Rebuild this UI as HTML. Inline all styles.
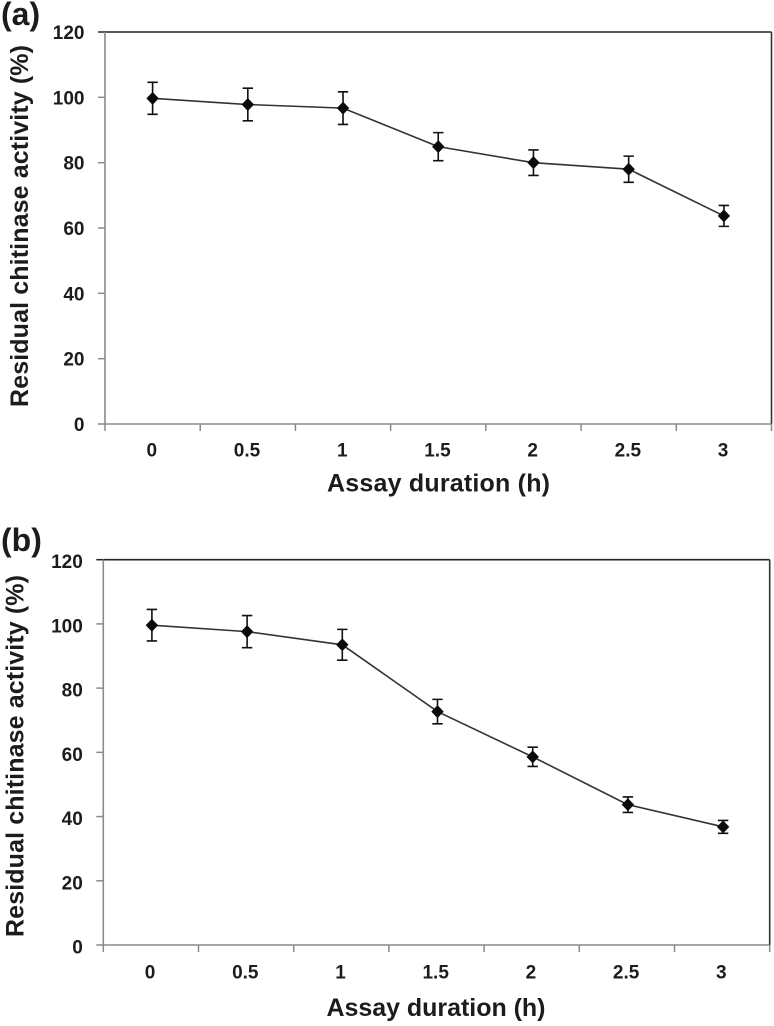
<!DOCTYPE html>
<html>
<head>
<meta charset="utf-8">
<style>
html,body{margin:0;padding:0;background:#fff;width:774px;height:1026px;overflow:hidden}
svg{display:block;font-family:"Liberation Sans",sans-serif;font-weight:bold;fill:#1c1c1c}
</style>
</head>
<body>
<svg id="figure" width="774" height="1026" viewBox="0 0 774 1026" xmlns="http://www.w3.org/2000/svg"></svg>
<script>
const categories = ['0', '0.5', '1', '1.5', '2', '2.5', '3'];
const yTicks = [0, 20, 40, 60, 80, 100, 120];
const seriesA = [99.7, 97.8, 96.7, 84.9, 80, 78, 63.7];
const errorsA = [4.9, 5, 5, 4.3, 3.9, 4, 3.2];
const seriesB = [99.6, 97.6, 93.5, 72.7, 58.6, 43.7, 36.8];
const errorsB = [4.9, 5, 4.8, 3.8, 3, 2.4, 2];

const NS = 'http://www.w3.org/2000/svg';
const svg = document.getElementById('figure');

function add(parent, tag, attrs, text) {
  const el = document.createElementNS(NS, tag);
  for (const k in attrs) el.setAttribute(k, attrs[k]);
  if (text !== undefined) el.textContent = text;
  parent.appendChild(el);
  return el;
}

function drawPanel(cfg) {
  const g = add(svg, 'g', {});
  
  
  const xBand = (cfg.right - cfg.left) / categories.length;
  const xCenter = i => cfg.left + xBand * (i + 0.5);
  const xPos = i => xCenter(i) + cfg.pointShift;
  const yMax = yTicks[yTicks.length - 1];
  const yPos = v => cfg.bottom - (v / yMax) * (cfg.bottom - cfg.top);

  const letter = add(g, 'text', {x: cfg.letterX, y: cfg.letterY, 'font-size': 32}, '(' + cfg.id + ')');
  
  

  const axisColor = '#8a8a8a';
  yTicks.forEach(t => {
    const y = yPos(t);
    const isTop = t === yMax;
    const tick = add(g, 'line', {x1: cfg.left - 7, x2: cfg.left, y1: y, y2: y, stroke: isTop ? '#222' : axisColor, 'stroke-width': 1.5});
    
    
    const label = add(g, 'text', {x: cfg.left - 20.5, y: y + cfg.yLabelDy, 'font-size': 19, 'text-anchor': 'end'}, String(t));
    
    
  });
  for (let i = 0; i <= categories.length; i++) {
    const x = cfg.left + xBand * i;
    const tick = add(g, 'line', {x1: x, x2: x, y1: cfg.bottom, y2: cfg.bottom + 7, stroke: axisColor, 'stroke-width': 1.5});
    
    
  }
  categories.forEach((c, i) => {
    const label = add(g, 'text', {x: xCenter(i) - 0.8, y: cfg.xLabelY, 'font-size': 19, 'text-anchor': 'middle'}, c);
    
    
  });

  const frameTop = add(g, 'line', {x1: cfg.left, x2: cfg.right, y1: cfg.top, y2: cfg.top, stroke: '#222', 'stroke-width': 1.6});
  
  
  const frameRight = add(g, 'line', {x1: cfg.right, x2: cfg.right, y1: cfg.top, y2: cfg.bottom, stroke: '#333', 'stroke-width': 1.6});
  
  
  const yAxis = add(g, 'line', {x1: cfg.left, x2: cfg.left, y1: cfg.top, y2: cfg.bottom, stroke: axisColor, 'stroke-width': 1.6});
  
  
  const xAxis = add(g, 'line', {x1: cfg.left, x2: cfg.right, y1: cfg.bottom, y2: cfg.bottom, stroke: axisColor, 'stroke-width': 1.6});
  
  

  const points = cfg.values.map((v, i) => xPos(i) + ',' + yPos(v)).join(' ');
  const line = add(g, 'polyline', {points: points, fill: 'none', stroke: '#333', 'stroke-width': 1.6});
  
  

  cfg.values.forEach((v, i) => {
    const x = xPos(i), y = yPos(v), e = cfg.errors[i];
    const yHi = yPos(v + e), yLo = yPos(v - e);
    const bar = add(g, 'path', {
      d: 'M' + x + ' ' + yHi + 'V' + yLo + 'M' + (x - 5.2) + ' ' + yHi + 'H' + (x + 5.2) + 'M' + (x - 5.2) + ' ' + yLo + 'H' + (x + 5.2),
      fill: 'none', stroke: '#111', 'stroke-width': 1.6
    });
    
    
    const marker = add(g, 'path', {
      d: 'M' + x + ' ' + (y - 6.5) + 'L' + (x + 6.2) + ' ' + y + 'L' + x + ' ' + (y + 6.5) + 'L' + (x - 6.2) + ' ' + y + 'Z',
      fill: '#0a0a0a'
    });
    
    
  });

  const xTitle = add(g, 'text', {x: cfg.xTitleX, y: cfg.xTitleY, 'font-size': 25, 'text-anchor': 'middle', textLength: cfg.xTitleLen, lengthAdjust: 'spacing'}, 'Assay duration (h)');
  
  
  const yTitle = add(g, 'text', {
    transform: 'translate(' + cfg.yTitleX + ' ' + cfg.yTitleY + ') rotate(-90)',
    'font-size': 25, 'text-anchor': 'middle', textLength: cfg.yTitleLen, lengthAdjust: 'spacing'
  }, 'Residual chitinase activity (%)');
  
  
}

drawPanel({id: 'a', left: 105, right: 771.5, top: 32, bottom: 424, values: seriesA, errors: errorsA, pointShift: 0,
  yLabelDy: 7, xLabelY: 456.5,
  letterX: 1, letterY: 25, xTitleX: 438.5, xTitleY: 491.5, xTitleLen: 223, yTitleX: 28, yTitleY: 226, yTitleLen: 362});
drawPanel({id: 'b', left: 103.3, right: 769.7, top: 559.7, bottom: 945, values: seriesB, errors: errorsB, pointShift: 1,
  yLabelDy: 8.5, xLabelY: 978.5,
  letterX: 1, letterY: 551, xTitleX: 436, xTitleY: 1016, xTitleLen: 219, yTitleX: 23.5, yTitleY: 756, yTitleLen: 362});
</script>
</body>
</html>
